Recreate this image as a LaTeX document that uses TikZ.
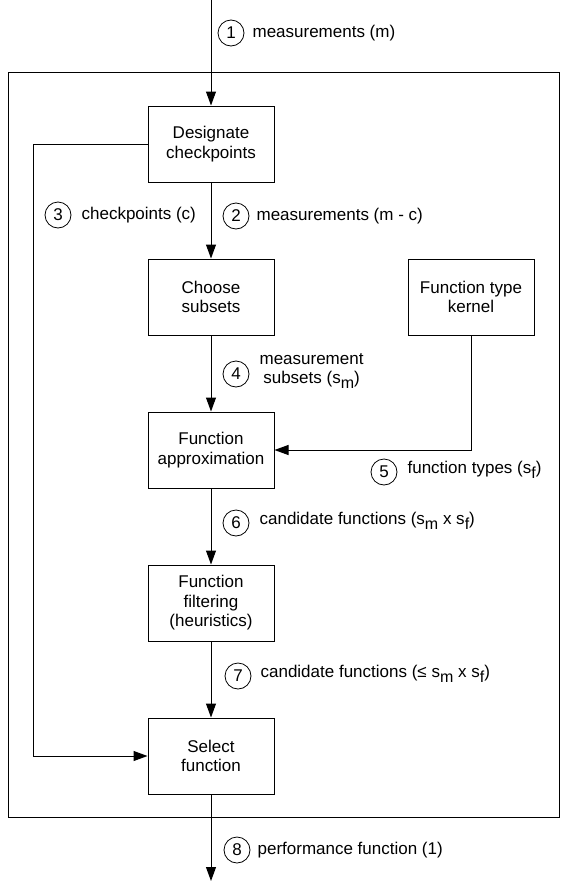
\documentclass[tikz,border=0pt]{standalone}
\usepackage{fontspec}
\setmainfont{Liberation Sans}
\usepackage{tikz}
\usetikzlibrary{arrows.meta,positioning}
\newcommand{\lowsub}[1]{\raisebox{-0.6ex}{\fontsize{16}{16}\selectfont #1}}

\begin{document}
\begin{tikzpicture}[
    x=1pt, y=-1pt,
    node distance=76pt,
    font=\fontsize{17}{19.5}\selectfont,
    box/.style={rectangle, draw, line width=1pt, minimum width=126pt, minimum height=76pt, align=center, inner sep=2pt},
    arrow/.style={-{Triangle[width=10pt,length=14pt]}, line width=1pt},
    numcirc/.style={circle, draw, line width=0.8pt, minimum size=26pt, inner sep=0pt},
    lbl/.style={inner sep=1pt, align=center}
]
\useasboundingbox (0,0) rectangle (560,881);

% outer frame
\draw[line width=1pt] (8,72) rectangle (559.5,817);

% main column
\node[box] (des) at (211,144) {Designate\\checkpoints};
\node[box, below=of des] (choose) {Choose\\subsets};
\node[box, right=133pt of choose] (kern) {Function type\\kernel};
\node[box, below=of choose] (approx) {Function\\approximation};
\node[box, below=of approx] (filt) {Function\\filtering\\(heuristics)};
\node[box, below=of filt] (sel) {Select\\function};

% free ends
\coordinate (in) at (211,0);
\coordinate (out) at (211,881);
\coordinate (bend) at (33,144);

% arrows
\draw[arrow] (in) -- (des);
\draw[arrow] (des) -- (choose);
\draw[arrow] (choose) -- (approx);
\draw[arrow] (kern.south) |- (approx.east);
\draw[arrow] (approx) -- (filt);
\draw[arrow] (filt) -- (sel);
\draw[arrow] (des.west) -- (bend) |- (sel.west);
\draw[arrow] (sel) -- (out);

% numbered labels
\node[numcirc] (n1) at (231,33) {1};
\node[lbl, right=7pt of n1] (t1) {measurements (m)};
\node[numcirc] (n2) at (236,216) {2};
\node[lbl, right=6pt of n2] (t2) {measurements (m - c)};
\node[numcirc] (n3) at (58,215) {3};
\node[lbl, right=9pt of n3] (t3) {checkpoints (c)};
\node[numcirc] (n4) at (236,374) {4};
\node[lbl, right=9pt of n4, yshift=3pt] (t4) {measurement\\subsets (s\lowsub{m})};
\node[numcirc] (n5) at (384,472) {5};
\node[lbl, right=9pt of n5, yshift=2pt] (t5) {function types (s\lowsub{f})};
\node[numcirc] (n6) at (236,523) {6};
\node[lbl, right=9pt of n6, yshift=2pt] (t6) {candidate functions (s\lowsub{m} x s\lowsub{f})};
\node[numcirc] (n7) at (238,676) {7};
\node[lbl, right=8pt of n7, yshift=2pt] (t7) {candidate functions (≤ s\lowsub{m} x s\lowsub{f})};
\node[numcirc] (n8) at (237,850) {8};
\node[lbl, right=6pt of n8] (t8) {performance function (1)};

\end{tikzpicture}
\end{document}
